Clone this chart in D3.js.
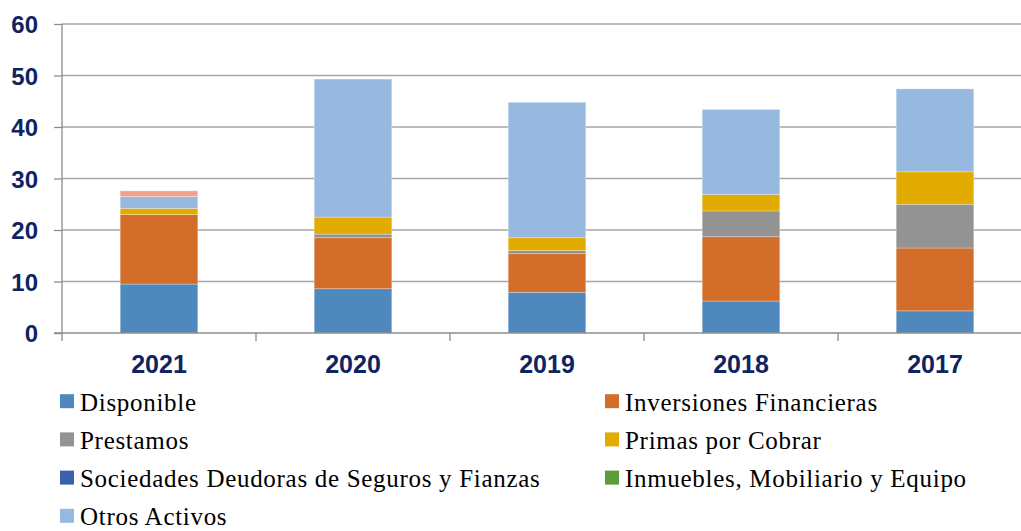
<!DOCTYPE html>
<html>
<head>
<meta charset="utf-8">
<script src="https://cdn.jsdelivr.net/npm/d3@7"></script>
<style>
  html, body { margin: 0; padding: 0; background: #fff; }
  svg { display: block; }
</style>
</head>
<body>
<svg id="chart" width="1021" height="531"></svg>
<script>
const categories = ["2021", "2020", "2019", "2018", "2017"];
const seriesNames = [
  "Disponible", "Inversiones Financieras", "Prestamos", "Primas por Cobrar",
  "Sociedades Deudoras de Seguros y Fianzas", "Inmuebles, Mobiliario y Equipo",
  "Otros Activos", "Otros"
];
const disponible   = [9.5, 8.6, 7.9, 6.2, 4.3];
const inversiones  = [13.5, 9.9, 7.5, 12.5, 12.2];
const prestamos    = [0.0, 0.7, 0.6, 5.0, 8.5];
const primas       = [1.2, 3.3, 2.5, 3.2, 6.3];
const sociedades   = [0, 0, 0, 0, 0];
const inmuebles    = [0, 0, 0, 0, 0];
const otrosActivos = [2.3, 26.8, 26.3, 16.5, 16.1];
const otros        = [1.1, 0, 0, 0, 0];
const yTicks = [0, 10, 20, 30, 40, 50, 60];
const legendNames = seriesNames.slice(0, 7);

const colors = ["#4F88BC", "#D36E2A", "#939393", "#E2AB00", "#3A62AC", "#5E9B3C", "#97B8DF", "#EFA48A"];
const seriesValues = [disponible, inversiones, prestamos, primas, sociedades, inmuebles, otrosActivos, otros];

const rows = categories.map((c, i) => {
  const r = { cat: c };
  seriesNames.forEach((s, j) => r[s] = seriesValues[j][i]);
  return r;
});

const svg = d3.select("#chart");
const x0 = 62, x1 = 1032, yTop = 24, yBottom = 333;

const x = d3.scaleBand().domain(categories).range([x0, x1]).paddingInner(0.6).paddingOuter(0.3);
const xEdge = d3.scaleLinear().domain([0, categories.length]).range([x0, x1]);
const y = d3.scaleLinear().domain([0, 60]).range([yBottom, yTop]);

// gridlines
svg.append("g").selectAll("line").data(yTicks.filter(t => t > 0)).join("line")
  .attr("x1", x0).attr("x2", 1021)
  .attr("y1", d => y(d)).attr("y2", d => y(d))
  .attr("stroke", "#A6A6A6").attr("stroke-width", 1.3);

// stacked bars
const stack = d3.stack().keys(seriesNames);
const stacked = stack(rows);
svg.append("g").selectAll("g").data(stacked).join("g")
  .attr("fill", (d, i) => colors[i])
  .selectAll("rect").data(d => d.filter(p => p[1] - p[0] > 0)).join("rect")
  .attr("x", d => x(d.data.cat))
  .attr("width", x.bandwidth())
  .attr("y", d => y(d[1]))
  .attr("height", d => y(d[0]) - y(d[1]))
  .attr("stroke", "rgba(255,255,255,0.35)").attr("stroke-width", 0.8);

// y axis
const yAxis = d3.axisLeft(y).tickValues(yTicks).tickSize(8).tickPadding(16);
const gy = svg.append("g").attr("transform", `translate(${x0},0)`).call(yAxis);
gy.select(".domain").attr("stroke", "#8C8C8C").attr("stroke-width", 1.3).attr("d", `M0,${yTop}V${yBottom}`);
gy.selectAll(".tick line").attr("stroke", "#8C8C8C").attr("stroke-width", 1.3);
gy.selectAll(".tick text")
  .attr("font-family", "Liberation Sans, Arial, sans-serif")
  .attr("font-size", 24).attr("font-weight", "bold").attr("fill", "#0E2464")
  .attr("dy", "0.36em");

// x axis baseline and tick marks between categories
svg.append("line").attr("x1", x0 - 8).attr("x2", 1021)
  .attr("y1", yBottom).attr("y2", yBottom)
  .attr("stroke", "#8C8C8C").attr("stroke-width", 1.3);
svg.append("g").selectAll("line").data(d3.range(0, categories.length + 1)).join("line")
  .attr("x1", d => xEdge(d)).attr("x2", d => xEdge(d))
  .attr("y1", yBottom).attr("y2", yBottom + 8)
  .attr("stroke", "#8C8C8C").attr("stroke-width", 1.3);
svg.append("g").selectAll("text").data(categories).join("text")
  .attr("x", d => x(d) + x.bandwidth() / 2)
  .attr("y", 373)
  .attr("text-anchor", "middle")
  .attr("font-family", "Liberation Sans, Arial, sans-serif")
  .attr("font-size", 25).attr("font-weight", "bold").attr("fill", "#0E2464")
  .text(d => d);

// legend
const legend = svg.append("g");
const legItems = legend.selectAll("g").data(legendNames).join("g")
  .attr("transform", (d, i) => {
    const col = i % 2, row = Math.floor(i / 2);
    return `translate(${col === 0 ? 60 : 605},${410.7 + row * 38.2})`;
  });
legItems.append("rect").attr("x", 0).attr("y", -16.5).attr("width", 14).attr("height", 14)
  .attr("fill", (d, i) => colors[i]);
legItems.append("text").attr("x", 20).attr("y", 0)
  .attr("font-family", "Liberation Serif, Times New Roman, serif")
  .attr("font-size", 25).attr("letter-spacing", 0.7).attr("fill", "#000")
  .text(d => d);
</script>
</body>
</html>
